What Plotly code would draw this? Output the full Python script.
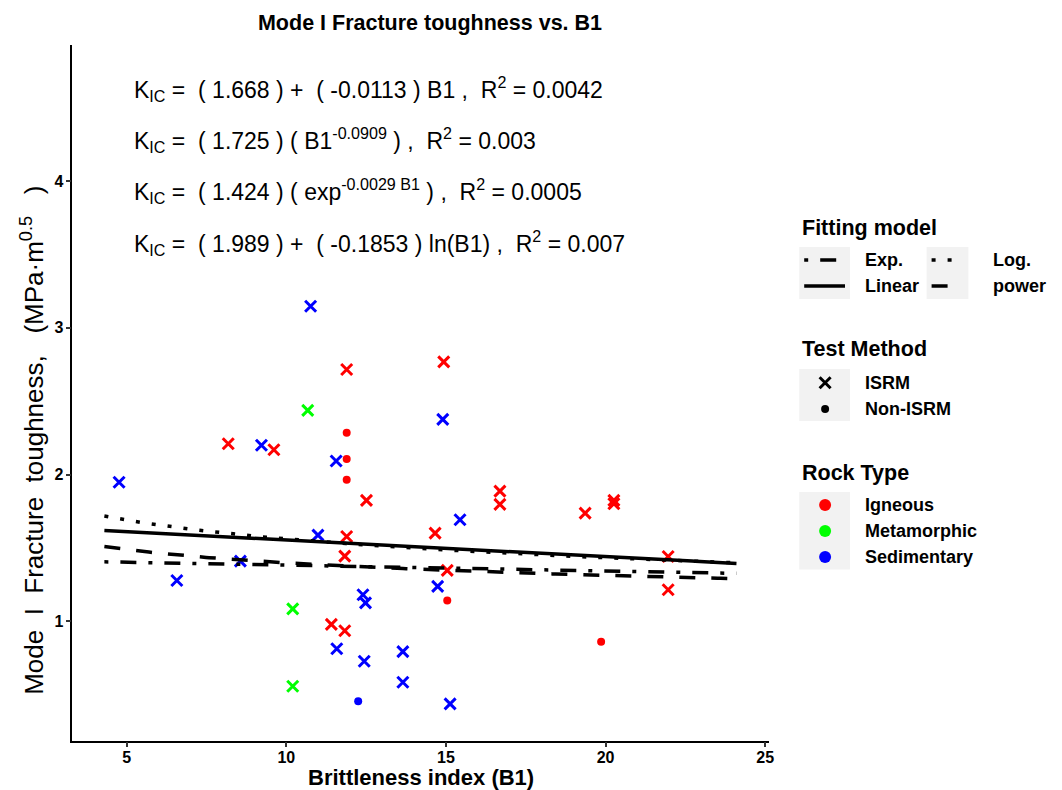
import numpy as np
import plotly.graph_objects as go

W, H = 1062, 790
FONT = "Liberation Sans, Arial, Helvetica, sans-serif"

# ---- measured samples -------------------------------------------------------
b1 = [11.89, 8.18, 9.61, 12.51, 11.89, 11.83, 11.41, 11.83, 14.93, 16.69,
      16.69, 19.36, 20.26, 20.26, 14.66, 15.04, 21.96, 21.96,
      11.89, 11.89, 11.89, 15.04, 19.86,
      10.67, 10.20, 10.20,
      10.76, 9.22, 11.56, 4.76, 10.99, 8.56, 6.57, 12.40, 12.48, 11.58,
      13.65, 12.44, 13.65, 14.90, 15.44, 14.74, 15.13,
      12.25]
kic = [2.716, 2.211, 2.170, 1.825, 1.579, 1.445, 0.980, 0.937, 2.768, 1.888,
       1.798, 1.738, 1.825, 1.802, 1.602, 1.348, 1.443, 1.216,
       2.286, 2.106, 1.966, 1.143, 0.862,
       2.438, 1.086, 0.559,
       3.147, 2.200, 2.093, 1.948, 1.588, 1.411, 1.279, 1.182, 1.127, 0.814,
       0.795, 0.729, 0.586, 2.377, 1.693, 1.239, 0.439,
       0.457]
rock_type = (["Igneous"] * 23 + ["Metamorphic"] * 3 + ["Sedimentary"] * 18)
test_method = (["ISRM"] * 18 + ["Non-ISRM"] * 5 + ["ISRM"] * 3 +
               ["ISRM"] * 17 + ["Non-ISRM"] * 1)

rock_levels = ["Igneous", "Metamorphic", "Sedimentary"]
rock_colors = ["#FF0000", "#00FF00", "#0000FF"]
method_levels = ["ISRM", "Non-ISRM"]

# fitted models: coefficients and R^2
lin_a, lin_b, lin_r2 = 1.668, -0.0113, "0.0042"
pow_a, pow_b, pow_r2 = 1.725, -0.0909, "0.003"
exp_a, exp_b, exp_r2 = 1.424, -0.0029, "0.0005"
log_a, log_b, log_r2 = 1.989, -0.1853, "0.007"
fit_range = [4.3, 24.1]

# axis settings
x_range = [3.297, 25.13]
y_range = [0.1894, 4.930]
x_ticks = [5, 10, 15, 20, 25]
y_ticks = [1, 2, 3, 4]

# panel placement in pixels (left, right, top, bottom)
PL, PR, PT, PB = 72.7, 773.0, 44.5, 740.5

fig = go.Figure()

# ---- points -----------------------------------------------------------------
b1_arr = np.array(b1)
kic_arr = np.array(kic)
rock_arr = np.array(rock_type)
meth_arr = np.array(test_method)
for rk, col in zip(rock_levels, rock_colors):
    for m in method_levels:
        sel = (rock_arr == rk) & (meth_arr == m)
        if not sel.any():
            continue
        if m == "ISRM":
            marker = dict(symbol="x-thin", size=11, color=col,
                          line=dict(color=col, width=3))
        else:
            marker = dict(symbol="circle", size=8, color=col,
                          line=dict(width=0))
        fig.add_trace(go.Scatter(x=b1_arr[sel], y=kic_arr[sel], mode="markers",
                                 marker=marker, showlegend=False,
                                 hoverinfo="skip"))

# ---- fitted curves ----------------------------------------------------------
LW = 3.5
DASH = {
    "Exp.": "4px,12px,16px,12px",
    "Linear": "solid",
    "Log.": "4px,12px",
    "power": "16px,16px",
}
xs = np.linspace(fit_range[0], fit_range[1], 200)
curves = {
    "Linear": lin_a + lin_b * xs,
    "power": pow_a * xs ** pow_b,
    "Exp.": exp_a * np.exp(exp_b * xs),
    "Log.": log_a + log_b * np.log(xs),
}
for name in ["Exp.", "Linear", "Log.", "power"]:
    fig.add_trace(go.Scatter(x=xs, y=curves[name], mode="lines",
                             line=dict(color="black", width=LW, dash=DASH[name]),
                             showlegend=False, hoverinfo="skip"))

# ---- legend (pixel overlay axes x2/y2) --------------------------------------
KEY_BG = "#F2F2F2"
shapes = []
anns = []


def key_box(x0, x1, y0, y1):
    shapes.append(dict(type="rect", xref="x2", yref="y2", x0=x0, x1=x1,
                       y0=y0, y1=y1, fillcolor=KEY_BG, line=dict(width=0),
                       layer="below"))


def legend_text(x, y, text, size, bold=True):
    anns.append(dict(xref="x2", yref="y2", x=x, y=y, text=text, showarrow=False,
                     xanchor="left", yanchor="middle",
                     font=dict(family=FONT, size=size, color="black",
                               weight="bold" if bold else "normal")))


TITLE_SIZE = 21.5
LABEL_SIZE = 18
LX_L, LX_R = 867, 996

# Fitting model
legend_text(804, 228, "Fitting model", TITLE_SIZE)
key_box(803, 854, 247, 299)
key_box(931, 973, 247, 299)
fit_keys = [("Exp.", 808, 849, 260, LX_L), ("Linear", 808, 849, 286, LX_L),
            ("Log.", 936, 968, 260, LX_R), ("power", 936, 968, 286, LX_R)]
for name, lx0, lx1, ly, tx in fit_keys:
    fig.add_trace(go.Scatter(x=[lx0, lx1], y=[ly, ly], mode="lines",
                             xaxis="x2", yaxis="y2",
                             line=dict(color="black", width=LW, dash=DASH[name]),
                             showlegend=False, hoverinfo="skip"))
    legend_text(tx, ly, name, LABEL_SIZE)

# Test Method
legend_text(804, 349, "Test Method", TITLE_SIZE)
key_box(803, 854, 369, 421)
fig.add_trace(go.Scatter(x=[829], y=[382.7], mode="markers", xaxis="x2", yaxis="y2",
                         marker=dict(symbol="x-thin", size=11, color="black",
                                     line=dict(color="black", width=3)),
                         showlegend=False, hoverinfo="skip"))
fig.add_trace(go.Scatter(x=[829], y=[409], mode="markers", xaxis="x2", yaxis="y2",
                         marker=dict(symbol="circle", size=8, color="black"),
                         showlegend=False, hoverinfo="skip"))
legend_text(LX_L, 382.7, "ISRM", LABEL_SIZE)
legend_text(LX_L, 409, "Non-ISRM", LABEL_SIZE)

# Rock Type
legend_text(804, 473, "Rock Type", TITLE_SIZE)
key_box(803, 854, 492, 569.5)
rock_rows = [505, 531, 557]
fig.add_trace(go.Scatter(x=[829] * 3, y=rock_rows, mode="markers", xaxis="x2", yaxis="y2",
                         marker=dict(symbol="circle", size=12, color=rock_colors),
                         showlegend=False, hoverinfo="skip"))
for rk, ry in zip(rock_levels, rock_rows):
    legend_text(LX_L, ry, rk, LABEL_SIZE)

# ---- equation labels --------------------------------------------------------
NB = "\u00a0"
eqs = [
    f"K<sub>IC</sub> ={NB}{NB}( {lin_a} ) +{NB}{NB}( {lin_b} ) B1 ,{NB}{NB}R<sup>2</sup> = {lin_r2}",
    f"K<sub>IC</sub> ={NB}{NB}( {pow_a} ) ( B1<sup>{pow_b}</sup> ) ,{NB}{NB}R<sup>2</sup> = {pow_r2}",
    f"K<sub>IC</sub> ={NB}{NB}( {exp_a} ) ( exp<sup>{exp_b} B1</sup> ) ,{NB}{NB}R<sup>2</sup> = {exp_r2}",
    f"K<sub>IC</sub> ={NB}{NB}( {log_a} ) +{NB}{NB}( {log_b} ) ln(B1) ,{NB}{NB}R<sup>2</sup> = {log_r2}",
]
eq_rows = [88.7, 140.3, 191.3, 242.7]
for t, ey in zip(eqs, eq_rows):
    anns.append(dict(xref="x2", yref="y2", x=133, y=ey, text=t, showarrow=False,
                     xanchor="left", yanchor="middle",
                     font=dict(family=FONT, size=23, color="black")))

# ---- axis titles ------------------------------------------------------------
anns.append(dict(xref="x2", yref="y2", x=(PL + PR) / 2, y=777,
                 text="Brittleness index (B1)", showarrow=False,
                 xanchor="center", yanchor="middle",
                 font=dict(family=FONT, size=22, color="black", weight="bold")))
S2 = NB * 2
S3 = NB * 3
anns.append(dict(xref="x2", yref="y2", x=32, y=440,
                 text=f"Mode{S2}I{S2}Fracture{S2}toughness,{S3}(MPa·m<sup>0.5</sup>{S3})",
                 showarrow=False, textangle=-90,
                 xanchor="center", yanchor="middle",
                 font=dict(family=FONT, size=26, color="black")))

axis_common = dict(showgrid=False, zeroline=False, showline=True,
                   linecolor="black", linewidth=1.5, ticks="outside",
                   ticklen=5, tickwidth=1.5, tickcolor="#333333",
                   tickfont=dict(family=FONT, size=16, color="black", weight="bold"))

fig.update_layout(
    width=W, height=H,
    margin=dict(l=0, r=0, t=0, b=0),
    paper_bgcolor="white",
    plot_bgcolor="rgba(0,0,0,0)",
    showlegend=False,
    title=dict(text="<b>Mode I Fracture toughness vs. B1</b>",
               x=430 / W, xanchor="center", y=1 - 22.5 / H, yanchor="middle",
               font=dict(family=FONT, size=21.5, color="black")),
    xaxis=dict(domain=[PL / W, PR / W], range=x_range, tickvals=x_ticks,
               anchor="y", ticklabelstandoff=-3, **axis_common),
    yaxis=dict(domain=[1 - PB / H, 1 - PT / H], range=y_range, tickvals=y_ticks,
               anchor="x", ticklabelstandoff=-1, **axis_common),
    xaxis2=dict(domain=[0, 1], range=[0, W], visible=False, anchor="y2",
                fixedrange=True),
    yaxis2=dict(domain=[0, 1], range=[H, 0], visible=False, anchor="x2",
                fixedrange=True),
    shapes=shapes,
    annotations=anns,
)

fig.write_html("out.html")
